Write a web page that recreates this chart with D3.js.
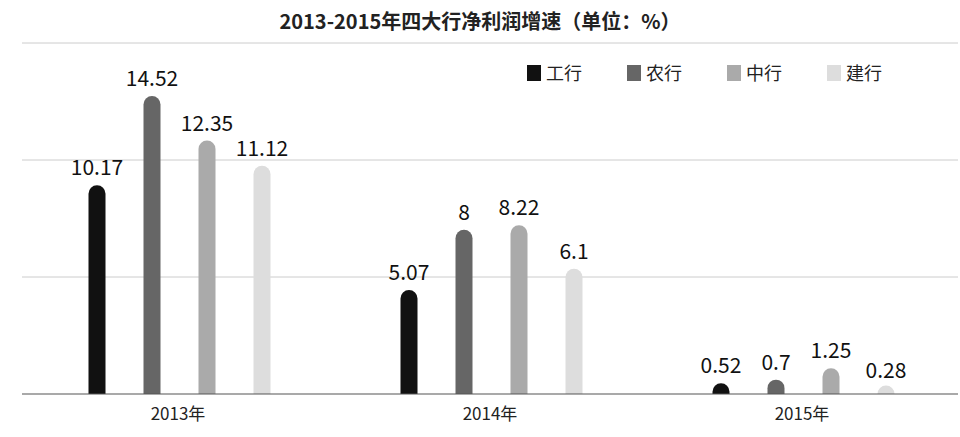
<!DOCTYPE html>
<html><head><meta charset="utf-8">
<script src="https://cdn.jsdelivr.net/npm/d3@7"></script>
<style>body{margin:0;background:#fff;font-family:"Noto Sans CJK SC","Noto Sans",sans-serif}</style>
</head><body><svg id="chart" width="960" height="437"></svg>
<script>
// data
var years = ["2013年", "2014年", "2015年"];
var banks = ["工行", "农行", "中行", "建行"];
var colors = ["#111111", "#666666", "#aaaaaa", "#dddddd"];
var icbc = [10.17, 5.07, 0.52];
var abc = [14.52, 8, 0.7];
var boc = [12.35, 8.22, 1.25];
var ccb = [11.12, 6.1, 0.28];
var gridTicks = [5.7, 11.4, 17.1];

var series = [icbc, abc, boc, ccb];
var svg = d3.select("#chart");

var x = d3.scaleBand().domain(years).range([22, 958]);
var xi = d3.scaleLinear().domain([0, 3]).range([-81, 84]);
var y = d3.scaleLinear().domain([0, 17.1]).range([394, 43]);
var bw = 17;

svg.append("text").attr("x", 480).attr("y", 29).attr("text-anchor", "middle")
  .attr("font-size", 20).attr("font-weight", "bold").attr("fill", "#222")
  .text("2013-2015年四大行净利润增速（单位：%）");

gridTicks.forEach(function(t) {
  svg.append("line").attr("x1", 22).attr("x2", 958).attr("y1", y(t)).attr("y2", y(t))
    .attr("stroke", "#cccccc").attr("stroke-width", 1);
});

series.forEach(function(vals, i) {
  vals.forEach(function(v, j) {
    var cx = x(years[j]) + x.bandwidth() / 2 + xi(i);
    var x0 = cx - bw / 2, top = y(v), r = Math.min(bw / 2, (y(0) - top));
    var p = "M" + x0 + "," + y(0) + "V" + (top + r) +
      "A" + r + "," + r + " 0 0 1 " + (x0 + bw) + "," + (top + r) + "V" + y(0) + "Z";
    svg.append("path").attr("d", p).attr("fill", colors[i]);
    svg.append("text").attr("x", cx).attr("y", top - 10).attr("text-anchor", "middle")
      .attr("font-size", 21).attr("fill", "#111").text(v);
  });
});

svg.append("line").attr("x1", 22).attr("x2", 958).attr("y1", y(0)).attr("y2", y(0))
  .attr("stroke", "#555").attr("stroke-width", 1.2);

years.forEach(function(yr) {
  svg.append("text").attr("x", x(yr) + x.bandwidth() / 2).attr("y", 420)
    .attr("text-anchor", "middle").attr("font-size", 17).attr("fill", "#222").text(yr);
});

banks.forEach(function(b, i) {
  var lx = 527 + i * 100;
  svg.append("rect").attr("x", lx).attr("y", 65).attr("width", 14).attr("height", 16)
    .attr("fill", colors[i]);
  svg.append("text").attr("x", lx + 19).attr("y", 80).attr("font-size", 18)
    .attr("fill", "#222").text(b);
});
</script></body></html>
